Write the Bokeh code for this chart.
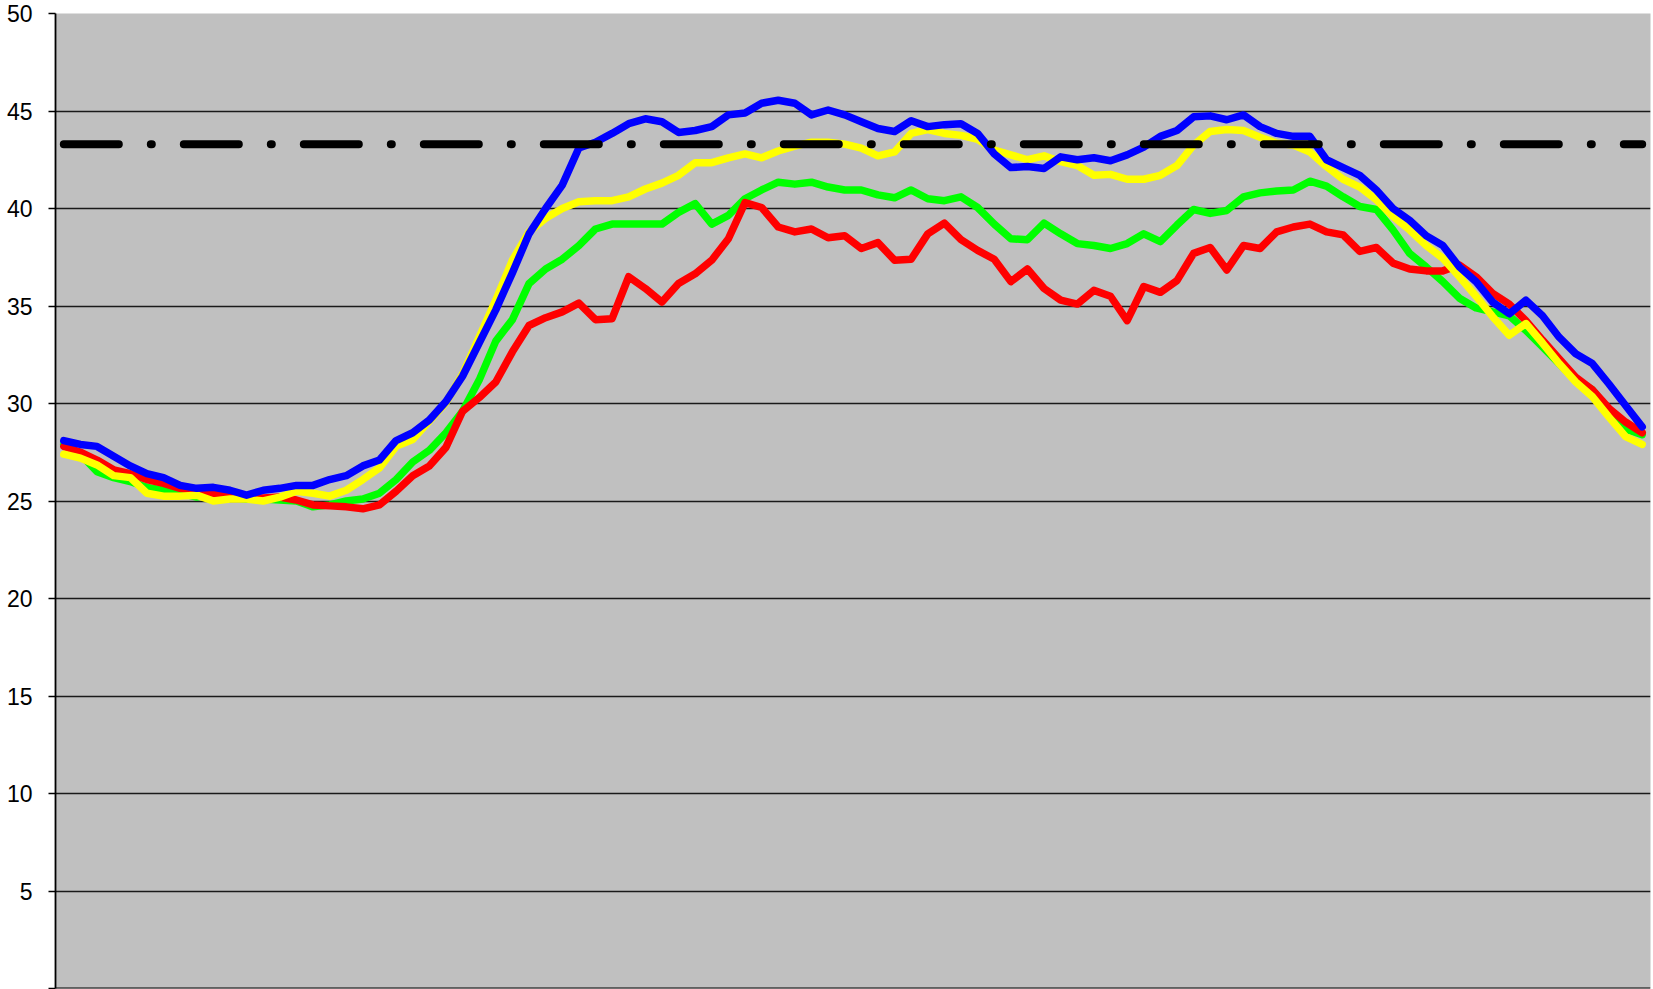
from bokeh.plotting import figure
from bokeh.models import FixedTicker, Span, ColumnDataSource
from bokeh.embed import file_html
from bokeh.resources import INLINE

# 96 quarter-hour samples
blue = [28.1, 27.9, 27.8, 27.3, 26.8, 26.4, 26.2, 25.8, 25.65, 25.7,
        25.55, 25.3, 25.55, 25.65, 25.8, 25.8, 26.1, 26.3, 26.8, 27.1,
        28.1, 28.5, 29.15, 30.1, 31.4, 33.1, 34.8, 36.7, 38.7, 40.0,
        41.2, 43.1, 43.4, 43.85, 44.35, 44.6, 44.45, 43.9, 44.0, 44.2,
        44.8, 44.9, 45.4, 45.55, 45.4, 44.8, 45.05, 44.8, 44.45, 44.1,
        43.95, 44.5, 44.2, 44.3, 44.35, 43.85, 42.8, 42.1, 42.15, 42.05,
        42.65, 42.5, 42.6, 42.45, 42.75, 43.15, 43.7, 44.0, 44.7, 44.75,
        44.55, 44.8, 44.2, 43.85, 43.7, 43.7, 42.5, 42.1, 41.7, 40.95,
        40.0, 39.4, 38.6, 38.1, 37.0, 36.25, 35.2, 34.6, 35.3, 34.5,
        33.4, 32.55, 32.05, 31.0, 29.9, 28.8]
yellow = [27.4, 27.2, 26.85, 26.3, 26.2, 25.4, 25.25, 25.25, 25.3, 25.0,
          25.1, 25.1, 25.0, 25.2, 25.5, 25.4, 25.25, 25.55, 26.1, 26.7,
          27.8, 28.15, 29.1, 30.05, 31.5, 33.4, 35.3, 37.35, 38.8, 39.5,
          40.0, 40.35, 40.4, 40.4, 40.6, 41.0, 41.3, 41.7, 42.35, 42.35,
          42.6, 42.8, 42.6, 42.95, 43.2, 43.4, 43.4, 43.3, 43.1, 42.7,
          42.9, 43.85, 44.05, 43.85, 43.75, 43.55, 43.0, 42.75, 42.5, 42.7,
          42.4, 42.2, 41.7, 41.75, 41.5, 41.5, 41.7, 42.2, 43.25, 43.95,
          44.05, 44.0, 43.65, 43.35, 43.25, 42.9, 42.15, 41.5, 41.1, 40.45,
          39.6, 38.9, 38.1, 37.45, 36.5, 35.5, 34.45, 33.5, 34.1, 33.1,
          32.05, 31.1, 30.35, 29.3, 28.3, 27.9]
green = [27.9, 27.4, 26.5, 26.2, 26.0, 25.7, 25.55, 25.4, 25.2, 25.4,
         25.2, 25.1, 25.1, 25.05, 25.0, 24.7, 24.8, 25.0, 25.1, 25.4,
         26.1, 27.0, 27.6, 28.5, 29.6, 31.2, 33.2, 34.3, 36.15, 36.9,
         37.4, 38.1, 38.95, 39.2, 39.2, 39.2, 39.2, 39.8, 40.25, 39.2,
         39.65, 40.5, 40.95, 41.35, 41.25, 41.35, 41.1, 40.95, 40.95, 40.7,
         40.55, 40.95, 40.5, 40.4, 40.6, 40.05, 39.2, 38.45, 38.4, 39.25,
         38.7, 38.2, 38.1, 37.95, 38.2, 38.7, 38.3, 39.15, 39.95, 39.75,
         39.9, 40.6, 40.8, 40.9, 40.95, 41.4, 41.15, 40.6, 40.1, 39.95,
         38.9, 37.7, 37.0, 36.25, 35.4, 34.9, 34.7, 34.5, 33.75, 32.9,
         32.05, 31.2, 30.7, 29.65, 28.7, 28.4]
red = [27.8, 27.5, 27.1, 26.6, 26.4, 26.1, 25.9, 25.65, 25.5, 25.4,
       25.3, 25.15, 25.15, 25.2, 25.05, 24.8, 24.75, 24.7, 24.6, 24.8,
       25.5, 26.3, 26.8, 27.75, 29.6, 30.3, 31.1, 32.65, 34.0, 34.4,
       34.7, 35.15, 34.3, 34.35, 36.5, 35.9, 35.2, 36.15, 36.65, 37.35,
       38.45, 40.3, 40.05, 39.05, 38.8, 38.95, 38.5, 38.6, 37.95, 38.25,
       37.35, 37.4, 38.7, 39.25, 38.4, 37.85, 37.4, 36.25, 36.9, 35.9,
       35.3, 35.1, 35.8, 35.5, 34.25, 36.0, 35.7, 36.3, 37.7, 38.0,
       36.85, 38.1, 37.95, 38.8, 39.05, 39.2, 38.8, 38.65, 37.8, 38.0,
       37.2, 36.9, 36.8, 36.8, 37.1, 36.5, 35.65, 35.1, 34.25, 33.25,
       32.3, 31.35, 30.7, 29.75, 29.05, 28.5]
threshold = 43.3
y_ticks = [0, 5, 10, 15, 20, 25, 30, 35, 40, 45, 50]
grid_ticks = [5, 10, 15, 20, 25, 30, 35, 40, 45]

n = len(blue)
idx = list(range(n))
src = ColumnDataSource(dict(x=idx, blue=blue, yellow=yellow, green=green, red=red,
                            thr=[threshold] * n))

p = figure(width=1653, height=989, x_range=(-0.5, n - 0.5), y_range=(0, 50),
           output_backend="svg", toolbar_location=None,
           min_border_left=55, min_border_right=3, min_border_top=13, min_border_bottom=1)
p.background_fill_color = "#C0C0C0"
p.border_fill_color = "white"
p.outline_line_color = None
p.xaxis.visible = False
p.xgrid.visible = False
p.ygrid.ticker = FixedTicker(ticks=grid_ticks)
p.ygrid.grid_line_color = "#1a1a1a"
p.ygrid.grid_line_width = 1.4

ax = p.yaxis[0]
ax.ticker = FixedTicker(ticks=y_ticks)
ax.major_label_overrides = {0: ""}
ax.major_tick_out = 7
ax.major_tick_in = 0
ax.minor_tick_line_color = None
ax.major_tick_line_color = "black"
ax.major_tick_line_width = 1.4
ax.axis_line_color = "black"
ax.axis_line_width = 1.8
ax.major_label_standoff = 16
ax.major_label_text_font = "Liberation Sans"
ax.major_label_text_font_size = "23px"
ax.major_label_text_color = "black"

p.add_layout(Span(location=0, dimension="width", line_color="black", line_width=2))

lw = 7.5
for col, color in [("green", "#00FF00"), ("red", "#FF0000"),
                   ("yellow", "#FFFF00"), ("blue", "#0000FF")]:
    p.line("x", col, source=src, line_color=color, line_width=lw,
           line_join="round", line_cap="round")

p.line("x", "thr", source=src, line_color="black", line_width=8,
       line_dash="55 32 1 32", line_cap="round")

html = file_html(p, INLINE)
html = html.replace("<head>", "<head><style>html,body{margin:0;padding:0;overflow:hidden;}</style>", 1)
open("out.html", "w").write(html)
